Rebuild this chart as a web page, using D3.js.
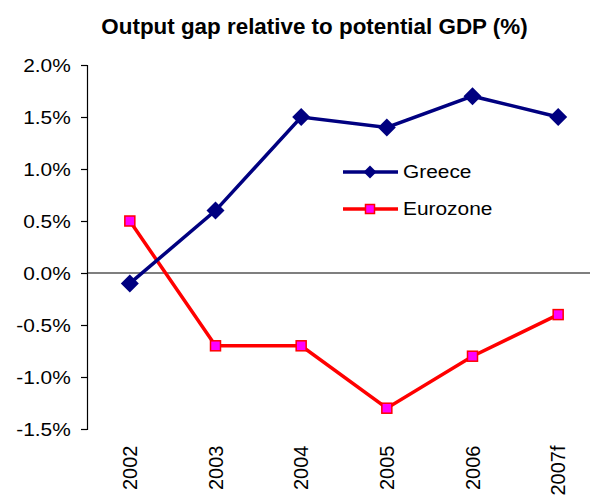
<!DOCTYPE html>
<html>
<head>
<meta charset="utf-8">
<script src="https://cdn.jsdelivr.net/npm/d3@7"></script>
<style>
  html, body { margin: 0; padding: 0; background: #fff; }
  svg { display: block; font-family: "Liberation Sans", Arial, sans-serif; }
</style>
</head>
<body>
<svg id="chart" width="590" height="496"></svg>
<script>
// Output gap data (% of potential GDP)
const years = ["2002", "2003", "2004", "2005", "2006", "2007f"];
const greece = [-0.1, 0.6, 1.5, 1.4, 1.7, 1.5];
const eurozone = [0.5, -0.7, -0.7, -1.3, -0.8, -0.4];
const yTicks = [2.0, 1.5, 1.0, 0.5, 0.0, -0.5, -1.0, -1.5];

const svg = d3.select("#chart");
const plotLeft = 87, plotRight = 601, plotTop = 65, plotBottom = 429;
const wide = 1.16; // horizontal widening of the axis lettering

const x = d3.scaleBand().domain(years).range([plotLeft, plotRight]);
const y = d3.scaleLinear().domain([-1.5, 2.0]).range([plotBottom, plotTop]);

// Title
svg.append("text")
  .attr("x", 314.5).attr("y", 34)
  .attr("text-anchor", "middle")
  .attr("font-weight", "bold")
  .attr("font-size", 22.4)
  .text("Output gap relative to potential GDP (%)");

// Y axis
const yAxis = d3.axisLeft(y)
  .tickValues(yTicks)
  .tickFormat(d => d.toFixed(1) + "%")
  .tickSize(6)
  .tickPadding(10);
const gy = svg.append("g").attr("transform", `translate(${plotLeft},0)`).call(yAxis);
gy.select(".domain").attr("stroke", "#000").attr("stroke-width", 1.2);
gy.selectAll(".tick line").attr("stroke", "#000").attr("stroke-width", 1.2);
gy.selectAll(".tick text")
  .attr("font-size", 18)
  .attr("fill", "#000")
  .attr("font-family", "Liberation Sans, Arial, sans-serif")
  .attr("x", -16.3 / wide)
  .attr("dy", "0.36em")
  .attr("transform", `scale(${wide},1)`);

// Zero line
svg.append("line")
  .attr("x1", plotLeft).attr("x2", 590)
  .attr("y1", y(0)).attr("y2", y(0))
  .attr("stroke", "#000").attr("stroke-width", 1.2);

// Category labels, rotated
svg.append("g").selectAll("text")
  .data(years)
  .join("text")
  .attr("transform", d => `translate(${x(d) + x.bandwidth() / 2 + 7},445.5) rotate(-90)`)
  .attr("text-anchor", "end")
  .attr("font-size", 20)
  .attr("fill", "#000")
  .text(d => d);

const cx = d => x(d) + x.bandwidth() / 2;
const line = d3.line().x((d, i) => cx(years[i])).y(d => y(d));

// Eurozone series
svg.append("path")
  .datum(eurozone)
  .attr("d", line)
  .attr("fill", "none")
  .attr("stroke", "#ff0000")
  .attr("stroke-width", 3.5);

// Greece series
svg.append("path")
  .datum(greece)
  .attr("d", line)
  .attr("fill", "none")
  .attr("stroke", "#000080")
  .attr("stroke-width", 3.5);

// Markers
const sq = 10;
svg.append("g").selectAll("rect")
  .data(eurozone)
  .join("rect")
  .attr("x", (d, i) => cx(years[i]) - sq / 2)
  .attr("y", d => y(d) - sq / 2)
  .attr("width", sq).attr("height", sq)
  .attr("fill", "#ff00ff")
  .attr("stroke", "#ff0000")
  .attr("stroke-width", 1.5);

const dia = 9;
const diamond = (x0, y0) => `M${x0},${y0 - dia}L${x0 + dia},${y0}L${x0},${y0 + dia}L${x0 - dia},${y0}Z`;
svg.append("g").selectAll("path")
  .data(greece)
  .join("path")
  .attr("d", (d, i) => diamond(cx(years[i]), y(d)))
  .attr("fill", "#000080");

// Legend
const legend = svg.append("g");
const items = [
  { name: "Greece", color: "#000080", marker: "diamond", yy: 172 },
  { name: "Eurozone", color: "#ff0000", marker: "square", yy: 209 }
];
items.forEach(it => {
  legend.append("line")
    .attr("x1", 343).attr("x2", 398)
    .attr("y1", it.yy).attr("y2", it.yy)
    .attr("stroke", it.color).attr("stroke-width", 3.5);
  if (it.marker === "diamond") {
    const d = 6.5;
    legend.append("path")
      .attr("d", `M370,${it.yy - d}L${370 + d},${it.yy}L370,${it.yy + d}L${370 - d},${it.yy}Z`)
      .attr("fill", "#000080");
  } else {
    legend.append("rect")
      .attr("x", 370 - 4.5).attr("y", it.yy - 4.5)
      .attr("width", 9).attr("height", 9)
      .attr("fill", "#ff00ff").attr("stroke", "#ff0000").attr("stroke-width", 1.5);
  }
  legend.append("text")
    .attr("x", 403 / 1.13).attr("y", it.yy + 6.5)
    .attr("transform", "scale(1.13,1)")
    .attr("font-size", 18.5)
    .attr("fill", "#000")
    .text(it.name);
});
</script>
</body>
</html>
